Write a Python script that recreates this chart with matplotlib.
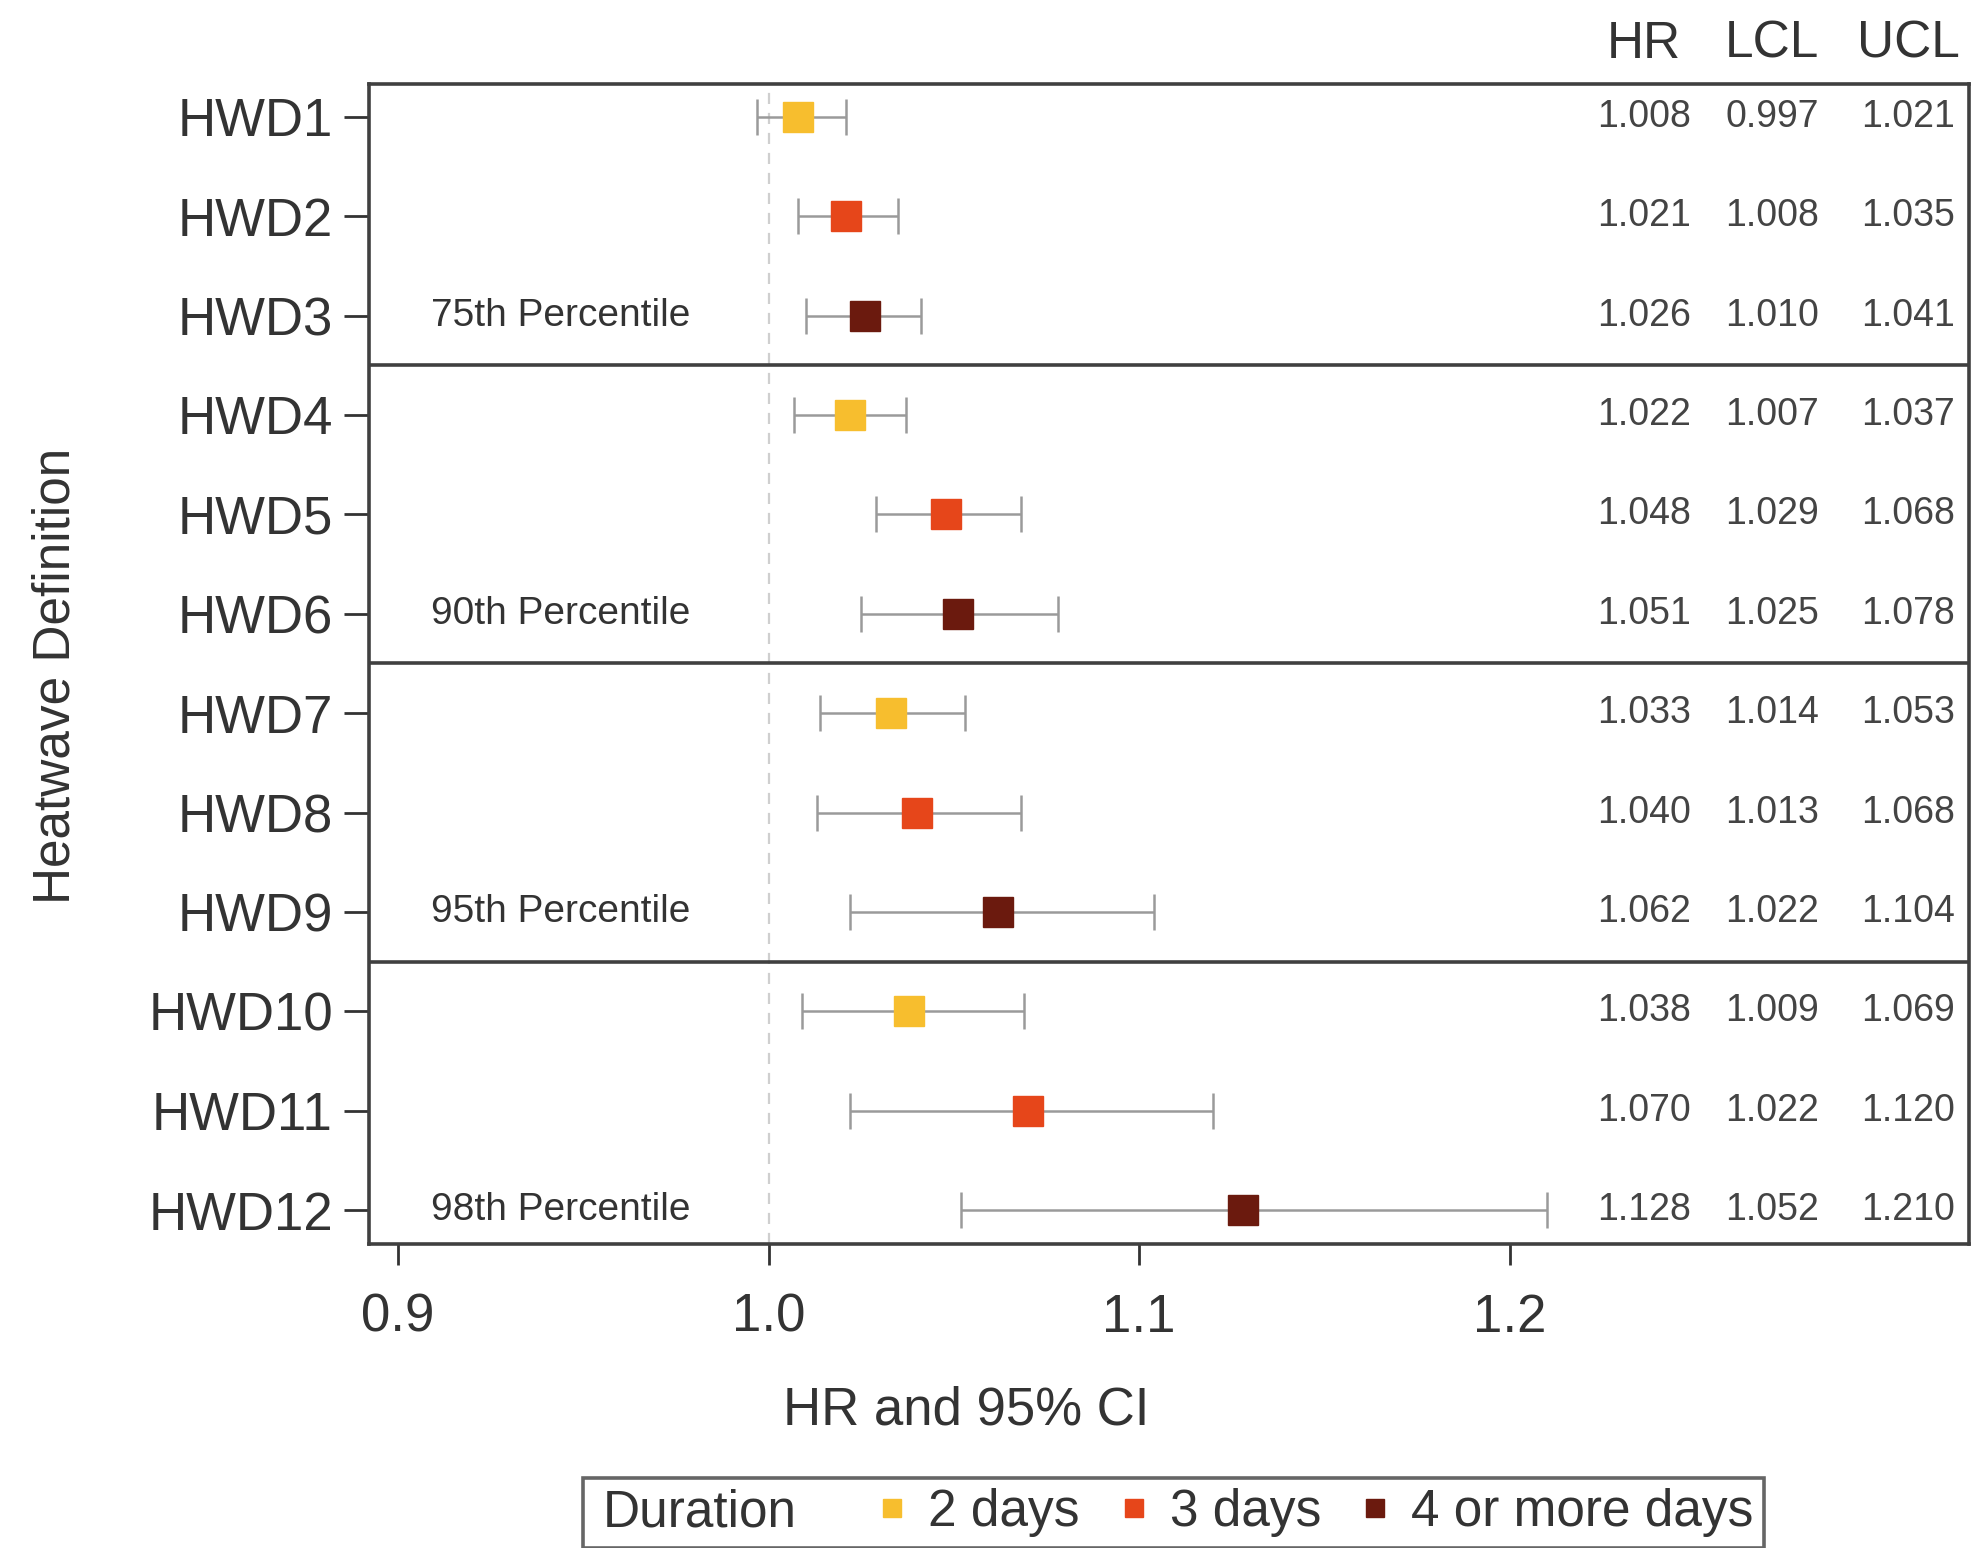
import matplotlib.pyplot as plt
from matplotlib.lines import Line2D

# data
labels = ['HWD1', 'HWD2', 'HWD3', 'HWD4', 'HWD5', 'HWD6',
          'HWD7', 'HWD8', 'HWD9', 'HWD10', 'HWD11', 'HWD12']
hr = [1.008, 1.021, 1.026, 1.022, 1.048, 1.051, 1.033, 1.040, 1.062, 1.038, 1.070, 1.128]
lcl = [0.997, 1.008, 1.010, 1.007, 1.029, 1.025, 1.014, 1.013, 1.022, 1.009, 1.022, 1.052]
ucl = [1.021, 1.035, 1.041, 1.037, 1.068, 1.078, 1.053, 1.068, 1.104, 1.069, 1.120, 1.210]
duration = ['2 days', '3 days', '4 or more days'] * 4
groups = ['75th Percentile', '90th Percentile', '95th Percentile', '98th Percentile']
xticks = [0.9, 1.0, 1.1, 1.2]

colors = {'2 days': '#F7BE2E', '3 days': '#E6461A', '4 or more days': '#6B1A0E'}
dark = '#333333'

plt.rcParams['font.family'] = ['Liberation Sans', 'DejaVu Sans']

fig = plt.figure(figsize=(19.75, 15.48), dpi=100)
ax = fig.add_axes([0.1868, 0.1964, 0.8101, 0.7494])

ys = list(range(len(labels)))

ax.axvline(1.0, color='#cfcfcf', ls=(0, (5, 4)), lw=1.6, zorder=0)

for y, h, lo, hi, d in zip(ys, hr, lcl, ucl, duration):
    ax.errorbar(h, y, xerr=[[h - lo], [hi - h]], fmt='none', ecolor='#9a9a9a',
                elinewidth=1.8, capsize=13, capthick=1.8, zorder=2)
    ax.plot(h, y, 's', color=colors[d], markersize=21, mec=colors[d], zorder=3)

# group separators and labels
for i, g in enumerate(groups):
    last = 3 * i + 2
    ax.text(0.039, last, g, transform=ax.get_yaxis_transform(), ha='left',
            va='center', fontsize=28, color=dark)
    if i < len(groups) - 1:
        ax.axhline(last + 0.5, color='#404040', lw=2.6, zorder=1)

# numeric columns
tr = ax.get_yaxis_transform()
cols = [(0.797, 'HR', hr), (0.877, 'LCL', lcl), (0.962, 'UCL', ucl)]
for xc, head, vals in cols:
    ax.text(xc, 1.034, head, transform=ax.transAxes, ha='center', va='center',
            fontsize=37, color=dark)
    for y, v in zip(ys, vals):
        ax.text(xc, y, f'{v:.3f}', transform=tr, ha='center', va='center',
                fontsize=27, color='#444444')

ax.set_xlim(0.8922, 1.3238)
ax.set_ylim(11.34, -0.33)
ax.set_xticks(xticks)
ax.set_xticklabels([f'{t:.1f}' for t in xticks])
ax.set_yticks(ys)
ax.set_yticklabels(labels)
ax.tick_params(axis='y', length=18, width=2, pad=8, labelsize=38, colors=dark)
ax.tick_params(axis='x', length=15, width=2, pad=20, labelsize=38, colors=dark)

for s in ax.spines.values():
    s.set_color('#404040')
    s.set_linewidth(2.6)

ax.set_xlabel('HR and 95% CI', fontsize=38, color=dark)
ax.xaxis.set_label_coords(0.373, -0.122)
ax.set_ylabel('Heatwave Definition', fontsize=37, color=dark)
ax.yaxis.set_label_coords(-0.18, 0.49)

handles = [Line2D([], [], ls='none', marker=None)]
names = ['Duration']
for d in ['2 days', '3 days', '4 or more days']:
    handles.append(Line2D([], [], ls='none', marker='s', markersize=13,
                          color=colors[d], mec=colors[d]))
    names.append(d)
leg = fig.legend(handles, names, loc='upper center', bbox_to_anchor=(0.594, 0.0452),
                 ncol=4, fontsize=37, frameon=True, fancybox=False,
                 handlelength=0.6, handletextpad=0.4, columnspacing=0.75,
                 borderpad=0.2, borderaxespad=0)
leg.get_frame().set_edgecolor('#404040')
leg.get_frame().set_linewidth(2.6)
for t in leg.get_texts():
    t.set_color(dark)
# pull "Duration" left into the empty handle slot
leg.get_texts()[0].set_x(-42)

fig.savefig('out.png', dpi=100)
